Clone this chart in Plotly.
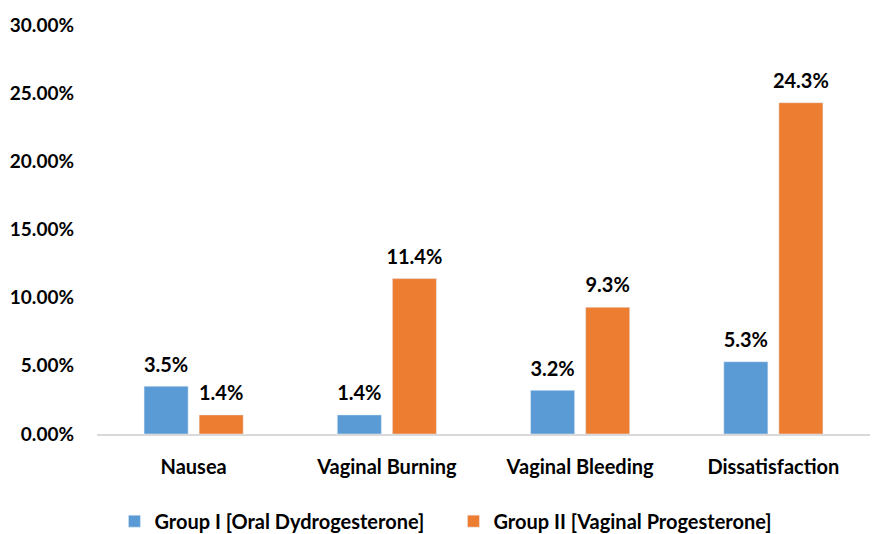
import plotly.graph_objects as go

categories = ["Nausea", "Vaginal Burning", "Vaginal Bleeding", "Dissatisfaction"]
group1_name = "Group I [Oral Dydrogesterone]"
group2_name = "Group II [Vaginal Progesterone]"
group1 = [0.035, 0.014, 0.032, 0.053]
group2 = [0.014, 0.114, 0.093, 0.243]
y_ticks = [0, 0.05, 0.10, 0.15, 0.20, 0.25, 0.30]

FONT = "Lato"
fig = go.Figure()
series = [(group1_name, group1, "#5B9BD5"), (group2_name, group2, "#ED7D31")]
for name, vals, color in series:
    fig.add_trace(go.Bar(
        x=categories, y=vals, name=name, marker_color=color,
        offsetgroup=name,
    ))
for name, vals, color in series:
    fig.add_trace(go.Scatter(
        x=categories, y=vals, mode="markers+text", showlegend=False,
        offsetgroup=name,
        marker=dict(size=14, opacity=0),
        text=[f"{v*100:.1f}%" for v in vals], textposition="top center",
        textfont=dict(family=FONT, size=20, color="black", weight="bold"),
        cliponaxis=False, hoverinfo="skip",
    ))

fig.update_layout(
    width=872, height=534,
    margin=dict(l=97, r=2, t=25, b=100, autoexpand=False),
    plot_bgcolor="white", paper_bgcolor="white",
    barmode="group", bargap=0.43, bargroupgap=0.2,
    scattermode="group", scattergap=0.43,
    font=dict(family=FONT, size=17, color="black", weight="bold"),
    legend=dict(orientation="h", x=0.52, xref="container", xanchor="center",
                y=0.024, yref="container", yanchor="middle",
                font=dict(family=FONT, size=20, color="black", weight="bold"),
                itemwidth=30, traceorder="normal",
                entrywidth=294, entrywidthmode="pixels"),
    showlegend=True,
)
fig.update_xaxes(showline=True, linecolor="#D9D9D9", linewidth=1.5, ticks="",
                 ticklabelstandoff=14,
                 tickfont=dict(family=FONT, size=20, color="black", weight="bold"))
fig.update_yaxes(range=[0, 0.30], tickvals=y_ticks, tickformat=".2%", showgrid=False,
                 zeroline=False, showline=False, ticks="", ticklabelstandoff=22,
                 tickfont=dict(family=FONT, size=19, color="black", weight="bold"))
fig.write_html("out.html")
